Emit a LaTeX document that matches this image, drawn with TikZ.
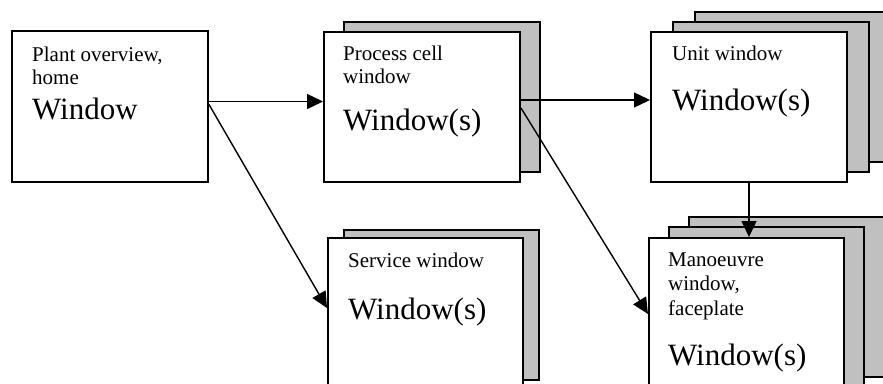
\documentclass[tikz,border=0pt]{standalone}
\usepackage{fontspec}
\setmainfont{Liberation Serif}
\usetikzlibrary{arrows.meta,shadows}
\definecolor{sheetgray}{RGB}{192,192,192}
\newcommand{\smalltxt}{\fontsize{21}{23}\selectfont}
\newcommand{\bigtxt}{\fontsize{31}{36}\selectfont}
\tikzset{
  win/.style={draw, line width=2pt, fill=white, anchor=north west,
    minimum width=196pt, minimum height=150pt, inner sep=0pt},
  sheet/.style 2 args={copy shadow={shadow xshift=#1, shadow yshift=#2,
    fill=sheetgray, draw=black, line width=2pt, opacity=1}},
  small/.style={anchor=base west, align=left, inner sep=0pt, font=\smalltxt},
  big/.style={anchor=base west, inner sep=0pt, font=\bigtxt},
  link/.style={line width=1.4pt, -{Triangle[length=16pt,width=15pt]}}
}
\begin{document}
\begin{tikzpicture}[x=1pt, y=1pt]
	\useasboundingbox (0,0) rectangle (883,-383);
	% windows
	\node [win, minimum height=151pt] (plant) at (11,-30) {};
	\node [win, sheet={20pt}{10pt}] (cell) at (323,-31) {};
	\node [win, sheet={44pt}{20pt}, sheet={22pt}{10pt}] (unit) at (650,-31) {};
	\node [win, minimum width=195pt, sheet={16pt}{8pt}] (service) at (327,-237) {};
	\node [win, minimum width=195pt, minimum height=160pt, sheet={40pt}{21pt}, sheet={20pt}{11pt}] (faceplate) at (648,-237) {};
	% texts (base = last line)
	\node [small] (plant-t) at ([shift={(21,-54)}]plant.north west) {Plant overview,\\home};
	\node [big] (plant-w) at ([shift={(21,-89)}]plant.north west) {Window};
	\node [small] (cell-t) at ([shift={(20,-52)}]cell.north west) {Process cell\\window};
	\node [big] (cell-w) at ([shift={(20,-99)}]cell.north west) {Window(s)};
	\node [small] (unit-t) at ([shift={(22,-29)}]unit.north west) {Unit window};
	\node [big] (unit-w) at ([shift={(22,-79)}]unit.north west) {Window(s)};
	\node [small] (service-t) at ([shift={(21,-30)}]service.north west) {Service window};
	\node [big] (service-w) at ([shift={(21,-82)}]service.north west) {Window(s)};
	\node [small, font=\fontsize{21}{24.5}\selectfont] (faceplate-t) at ([shift={(20,-78)}]faceplate.north west) {Manoeuvre\\window,\\faceplate};
	\node [big] (faceplate-w) at ([shift={(20,-128)}]faceplate.north west) {Window(s)};
	% links
	\draw [link] ([yshift=5pt]plant.east) -- ([yshift=5pt]plant.east -| cell.west);
	\draw [link] ([yshift=2pt]plant.east) -- ([yshift=5pt]service.west);
	\draw [link] ([yshift=7pt]cell.east) -- ([yshift=7pt]cell.east -| unit.west);
	\draw [link] ([yshift=-1pt]cell.east) -- ([yshift=4pt]faceplate.west);
	\draw [link] (unit.south) -- (unit.south |- faceplate.north);
\end{tikzpicture}
\end{document}
